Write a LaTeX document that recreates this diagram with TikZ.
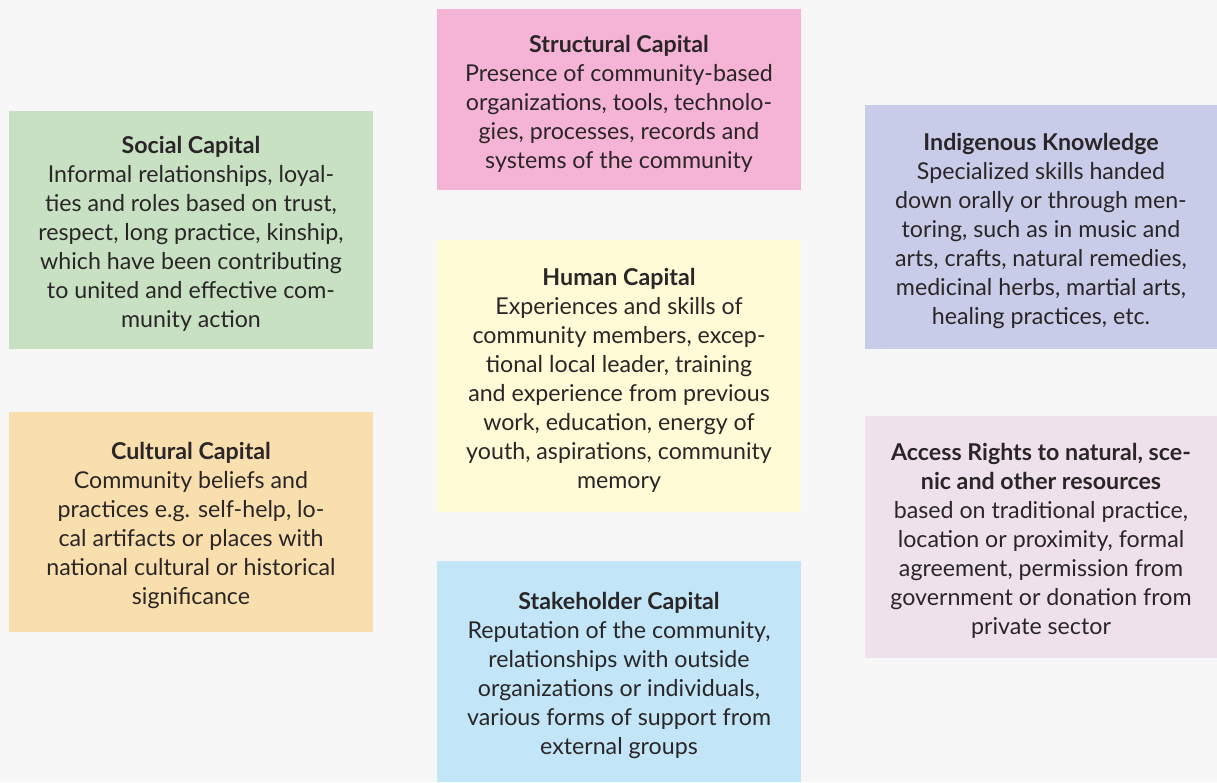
\documentclass[tikz,border=0pt]{standalone}
\usepackage{fontspec}
\setmainfont{Lato}
\definecolor{bgc}{HTML}{F7F7F7}
\definecolor{txt}{HTML}{2A2627}
\definecolor{socialc}{HTML}{C8E1C3}
\definecolor{structc}{HTML}{F5B4D5}
\definecolor{indigc}{HTML}{C8CCE8}
\definecolor{humanc}{HTML}{FFFBD6}
\definecolor{culturc}{HTML}{FADFAE}
\definecolor{accessc}{HTML}{EFE1EC}
\definecolor{stakec}{HTML}{C2E6F8}
% bold heading with a tall strut so the text block sits a little lower
\newcommand{\captitle}[1]{\textbf{\rule{0pt}{25pt}#1}}
\tikzset{
  capbox/.style={rectangle, inner sep=0pt, draw=none, align=center,
    text=txt, font=\fontsize{23.2}{29}\selectfont},
}
\begin{document}
\begin{tikzpicture}[x=1pt,y=-1pt]
  \fill[bgc] (0,0) rectangle (1217,782);
  \useasboundingbox (0,0) rectangle (1217,782);

  % left column
  \node[capbox, fill=socialc, minimum width=364pt, minimum height=238pt] (social) at (191,230)
    {\captitle{Social Capital}\\Informal relationships, loyal-\\ties and roles based on trust,\\respect, long practice, kinship,\\which have been contributing\\to united and effective com-\\munity action};
  \node[capbox, fill=culturc, minimum width=364pt, minimum height=220pt] (cultural) at (191,522)
    {\captitle{Cultural Capital}\\Community beliefs and\\practices e.g. self-help, lo-\\cal artifacts or places with\\national cultural or historical\\significance};

  % middle column
  \node[capbox, fill=structc, minimum width=364pt, minimum height=181pt] (structural) at (619,99.5)
    {\captitle{Structural Capital}\\Presence of community-based\\organizations, tools, technolo-\\gies, processes, records and\\systems of the community};
  \node[capbox, fill=humanc, minimum width=364pt, minimum height=272pt] (human) at (619,376)
    {\captitle{Human Capital}\\Experiences and skills of\\community members, excep-\\tional local leader, training\\and experience from previous\\work, education, energy of\\youth, aspirations, community\\memory};
  \node[capbox, fill=stakec, minimum width=364pt, minimum height=221pt] (stake) at (619,671.5)
    {\captitle{Stakeholder Capital}\\Reputation of the community,\\relationships with outside\\organizations or individuals,\\various forms of support from\\external groups};

  % right column
  \node[capbox, fill=indigc, minimum width=352pt, minimum height=244pt] (indig) at (1041,227)
    {\captitle{Indigenous Knowledge}\\Specialized skills handed\\down orally or through men-\\toring, such as in music and\\arts, crafts, natural remedies,\\medicinal herbs, martial arts,\\healing practices, etc.};
  \node[capbox, fill=accessc, minimum width=352pt, minimum height=242pt] (access) at (1041,537)
    {\captitle{Access Rights to natural, sce-}\\\textbf{nic and other resources}\\based on traditional practice,\\location or proximity, formal\\agreement, permission from\\government or donation from\\private sector};
\end{tikzpicture}
\end{document}
